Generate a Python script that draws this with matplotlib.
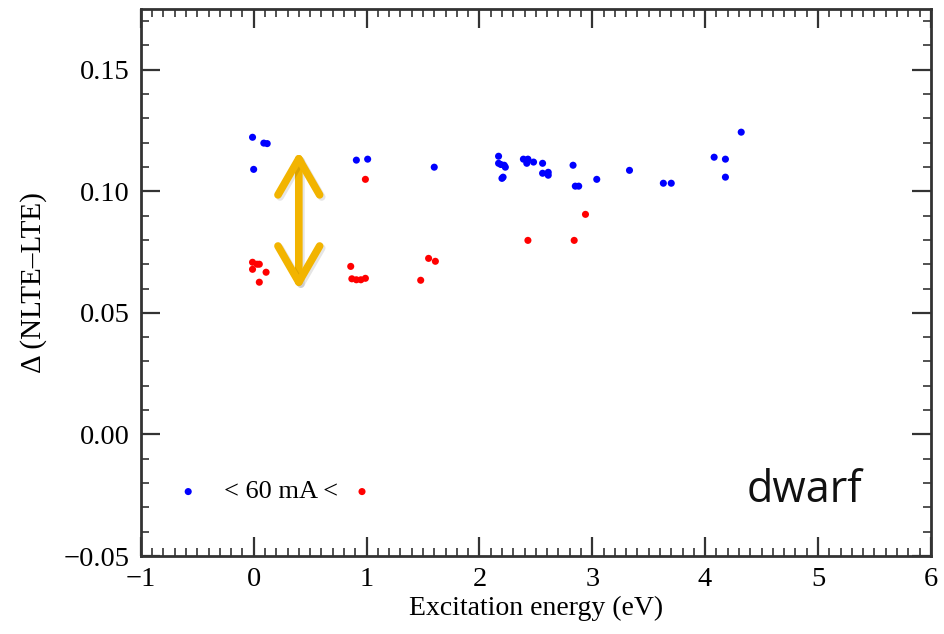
import matplotlib
matplotlib.use("Agg")
import matplotlib.pyplot as plt
import matplotlib.patheffects as pe
from matplotlib.ticker import MultipleLocator

# lines with equivalent width below 60 mA
ew_lo_x = [-0.01, 0.09, 0.12, 0.0, 0.91, 1.01, 1.60,
           2.17, 2.17, 2.19, 2.22, 2.23, 2.20, 2.21,
           2.39, 2.43, 2.42, 2.48, 2.56, 2.56, 2.61, 2.61,
           2.83, 2.85, 2.88, 3.04, 3.33, 3.63, 3.70,
           4.08, 4.18, 4.18, 4.32]
ew_lo_y = [0.1222, 0.1198, 0.1196, 0.1090, 0.1128, 0.1132, 0.1099,
           0.1144, 0.1115, 0.1110, 0.1107, 0.1099, 0.1053, 0.1058,
           0.1132, 0.1132, 0.1115, 0.1120, 0.1115, 0.1074, 0.1078, 0.1066,
           0.1107, 0.1021, 0.1021, 0.1049, 0.1086, 0.1033, 0.1033,
           0.1140, 0.1132, 0.1058, 0.1243]

# lines with equivalent width above 60 mA
ew_hi_x = [-0.01, 0.03, 0.05, -0.01, 0.11, 0.05,
           0.86, 0.87, 0.91, 0.95, 0.99, 0.99,
           1.48, 1.55, 1.61, 2.43, 2.84, 2.94]
ew_hi_y = [0.0708, 0.0700, 0.0700, 0.0679, 0.0667, 0.0626,
           0.0691, 0.0640, 0.0636, 0.0636, 0.0642, 0.1049,
           0.0634, 0.0724, 0.0712, 0.0798, 0.0798, 0.0905]

plt.rcParams['font.family'] = ['Liberation Serif', 'DejaVu Serif']

fig = plt.figure(figsize=(9.45, 6.34), dpi=100)
ax = fig.add_axes([0.149, 0.123, 0.836, 0.863])

ax.scatter(ew_lo_x, ew_lo_y, s=26, color='#0000ff', edgecolors='none', zorder=3)
ax.scatter(ew_hi_x, ew_hi_y, s=26, color='#ff0000', edgecolors='none', zorder=3)

# legend line: blue dot, text, red dot
ax.scatter([-0.58], [-0.0235], s=26, color='#0000ff', edgecolors='none')
ax.scatter([0.96], [-0.0235], s=26, color='#ff0000', edgecolors='none')
ax.text(0.24, -0.0235, '< 60 mA <', fontsize=19, ha='center', va='center')

# double arrow showing the offset between the two groups
ax.annotate('', xy=(0.40, 0.1165), xytext=(0.40, 0.0595),
            arrowprops=dict(arrowstyle='<->,head_length=1.3,head_width=0.75',
                            mutation_scale=20, color='#f2b400', lw=5.5,
                            capstyle='round', joinstyle='round',
                            shrinkA=0, shrinkB=0,
                            path_effects=[pe.SimpleLineShadow(offset=(1.5, -1.5), shadow_color='k', alpha=0.1),
                                          pe.Normal()]))

ax.text(0.84, 0.12, 'dwarf', transform=ax.transAxes, fontsize=31,
        family='Open Sans', ha='center', va='center', color='#111111')

ax.set_xlim(-1, 6)
ax.set_ylim(-0.05, 0.175)
ax.xaxis.set_major_locator(MultipleLocator(1))
ax.xaxis.set_minor_locator(MultipleLocator(0.1))
ax.yaxis.set_major_locator(MultipleLocator(0.05))
ax.yaxis.set_minor_locator(MultipleLocator(0.01))
ax.yaxis.set_major_formatter(plt.FuncFormatter(lambda v, p: ('%.2f' % v).replace('-', '\u2212')))
ax.xaxis.set_major_formatter(plt.FuncFormatter(lambda v, p: ('%d' % round(v)).replace('-', '\u2212')))

ax.tick_params(which='both', direction='in', top=True, right=True,
               labelsize=20.5, color='#333333', pad=8)
ax.tick_params(which='major', length=14, width=1.6)
ax.tick_params(which='minor', length=6, width=1.2)
for sp in ax.spines.values():
    sp.set_color('#333333')
    sp.set_linewidth(2)

ax.set_xlabel('Excitation energy (eV)', fontsize=20, labelpad=3)
ax.set_ylabel('\u0394 (NLTE\u2013LTE)', fontsize=21, labelpad=12)

fig.savefig('out.png', dpi=100)
